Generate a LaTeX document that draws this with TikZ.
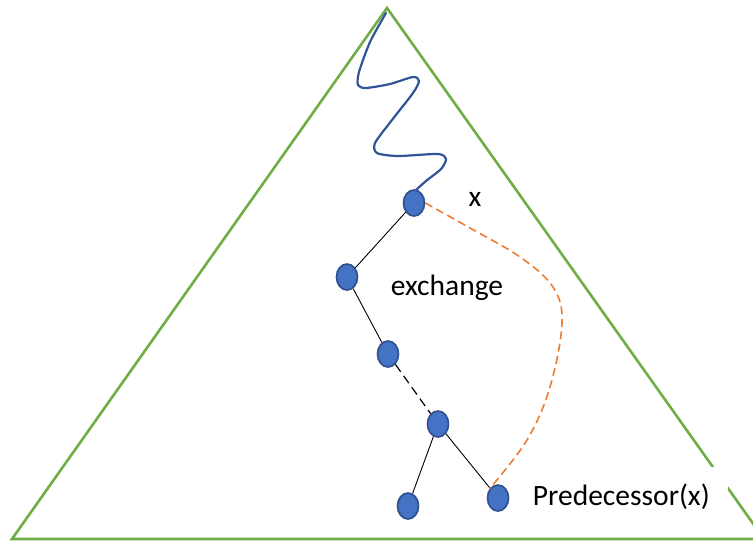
\documentclass[tikz,border=0pt]{standalone}
\usepackage{fontspec}
\setmainfont{Carlito}
\usetikzlibrary{shapes.geometric}
\definecolor{trigreen}{HTML}{70AD47}
\definecolor{nodefill}{HTML}{4472C4}
\definecolor{nodeedge}{HTML}{2F528F}
\definecolor{wiggle}{HTML}{2F5597}
\definecolor{predorange}{HTML}{ED7D31}
\tikzset{
  treenode/.style={ellipse, fill=nodefill, draw=nodeedge, line width=1.7pt, minimum width=21pt, minimum height=26pt, inner sep=0pt},
  treeedge/.style={black, line width=0.9pt},
  lbl/.style={font=\fontsize{29.5}{35}\selectfont, inner sep=0pt},
}
\begin{document}
\begin{tikzpicture}[x=1pt,y=-1pt]
\useasboundingbox (0,0) rectangle (753,541);
\clip (0,0) rectangle (753,541);
% triangle
\coordinate (apex) at (387,8);
\coordinate (bl) at (12,539);
\coordinate (br) at (764,539);
\draw[trigreen, line width=2.6pt, line join=miter] (bl) -- (apex) -- (br) -- cycle;
% label with white background interrupting the triangle edge
\node[lbl, fill=white, minimum width=213pt, minimum height=60pt, anchor=north east] (pred) at (728,467) {Predecessor(x)};
% nodes
\node[treenode] (x) at (414,203) {};
\node[treenode] (n2) at (347,277) {};
\node[treenode] (n3) at (388,354) {};
\node[treenode] (n4) at (438,424) {};
\node[treenode] (n5) at (408,506) {};
\node[treenode] (n6) at (498,498) {};
% wiggle
\draw[wiggle, line width=2.2pt, line cap=round] plot[smooth, tension=0.45] coordinates {(386,13) (370,42) (359,72) (358,85) (366,88) (390,84) (413,77) (419,81) (413,93) (392,120) (375,143) (377,153) (398,156) (438,154) (446,159) (441,169) (426,181) (416,190)};
% tree edges
\draw[treeedge] (x) -- (n2);
\draw[treeedge] (n2) -- (n3);
\draw[treeedge, dash pattern=on 9pt off 5pt, line width=1.2pt] (n3) -- (n4);
\draw[treeedge] (n4) -- (n5);
\draw[treeedge] (n4) -- (n6);
% orange dashed
\draw[predorange, line width=1.6pt, dash pattern=on 8pt off 4.5pt] plot[smooth, tension=0.6] coordinates {(x.east) (470,228) (520,257) (553,287) (562,323) (550,387) (527,440) (n6.north west)};
% labels
\node[lbl] (xl) at (475,199) {x};
\node[lbl] (ex) at (447,288) {exchange};
\end{tikzpicture}
\end{document}
